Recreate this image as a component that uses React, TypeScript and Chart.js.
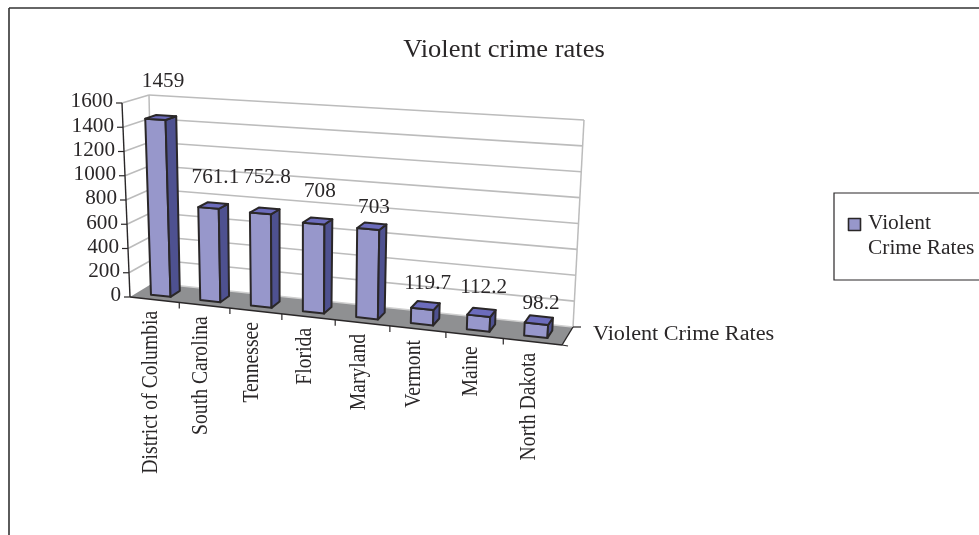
import React, { useEffect, useRef } from "react";
import { Chart, registerables } from "chart.js";

Chart.register(...registerables);

const categories = ["District of Columbia", "South Carolina", "Tennessee", "Florida", "Maryland", "Vermont", "Maine", "North Dakota"];
const crimeRates = [1459, 761.1, 752.8, 708, 703, 119.7, 112.2, 98.2];
const seriesName = "Violent Crime Rates";
const legendLines = ["Violent", "Crime Rates"];
const chartTitle = "Violent crime rates";
const yMax = 1600;
const yStep = 200;
// extra upward lift of each value label above its bar (hand-placed in the original)
const labelLift = [20, 12, 17, 13, 2, 6, 8, 0];

const FONT = '"Liberation Serif", "Times New Roman", serif';
const INK = "#2a2728";
const FRONT = "#9797cb";
const SIDE = "#4e5190";
const TOP = "#6c6cbc";
const FLOOR = "#8f9092";
const GRID = "#bcbcbc";

type P = [number, number];
// the eight corners of the 3D box: F/B front/back, B/T bottom/top, L/R left/right
const FBL: P = [130, 297], FTL: P = [122, 103], FBR: P = [562, 345], FTR: P = [573, 130];
const BBL: P = [153, 283], BTL: P = [149, 95], BBR: P = [573, 327], BTR: P = [584, 120];
const BAR_D0 = 0.28, BAR_D1 = 0.7;

const lerp = (a: P, b: P, t: number): P => [a[0] + (b[0] - a[0]) * t, a[1] + (b[1] - a[1]) * t];
const warp = (u: number) => u - 0.1 * u * (1 - u);
function project(u: number, v: number, d: number): P {
  const w = warp(u);
  const front = lerp(lerp(FBL, FBR, w), lerp(FTL, FTR, w), v);
  const back = lerp(lerp(BBL, BBR, w), lerp(BTL, BTR, w), v);
  return lerp(front, back, d);
}

function quad(ctx: CanvasRenderingContext2D, pts: P[], fill: string | null, stroke: string | null, lw = 2) {
  ctx.beginPath();
  pts.forEach((p, i) => (i ? ctx.lineTo(p[0], p[1]) : ctx.moveTo(p[0], p[1])));
  ctx.closePath();
  if (fill) { ctx.fillStyle = fill; ctx.fill(); }
  if (stroke) { ctx.strokeStyle = stroke; ctx.lineWidth = lw; ctx.lineJoin = "round"; ctx.stroke(); }
}
function line(ctx: CanvasRenderingContext2D, a: P, b: P, color: string, lw: number) {
  ctx.beginPath(); ctx.moveTo(a[0], a[1]); ctx.lineTo(b[0], b[1]);
  ctx.strokeStyle = color; ctx.lineWidth = lw; ctx.stroke();
}
function text(ctx: CanvasRenderingContext2D, s: string, x: number, y: number, size: number, align: CanvasTextAlign, sx = 1.06, rot = 0) {
  ctx.save();
  ctx.translate(x, y);
  ctx.scale(sx, 1);
  ctx.rotate(rot);
  ctx.font = `${size}px ${FONT}`;
  ctx.fillStyle = INK;
  ctx.textAlign = align;
  ctx.textBaseline = "middle";
  ctx.fillText(s, 0, 0);
  ctx.restore();
}

const scene3d = {
  id: "scene3d",
  beforeDatasetsDraw(chart: any) {
    const ctx = chart.ctx as CanvasRenderingContext2D;
    const ys = chart.scales.y;
    ctx.save();
    // outer frame
    line(ctx, [9, 8], [979, 8], "#333", 1.6);
    line(ctx, [9, 8], [9, 535], "#333", 1.6);
    // walls and floor
    ys.ticks.forEach((t: any) => {
      const v = t.value / yMax;
      if (t.value === 0) return;
      line(ctx, project(0, v, 0), project(0, v, 1), GRID, 1.6);
      line(ctx, project(0, v, 1), project(1, v, 1), GRID, 1.6);
    });
    line(ctx, BBL, BTL, GRID, 1.5);
    line(ctx, BBR, BTR, GRID, 1.5);
    quad(ctx, [FBL, BBL, BBR, FBR], FLOOR, null);
    line(ctx, BBL, BBR, "#d0d0d0", 1.4);
    ctx.restore();
  },
  beforeDatasetDraw(chart: any, args: any) {
    const ctx = chart.ctx as CanvasRenderingContext2D;
    const { left, right, top, bottom } = chart.chartArea;
    ctx.save();
    args.meta.data.forEach((el: any) => {
      const p = el.getProps(["x", "y", "width"], true);
      const u0 = (p.x - p.width / 2 - left) / (right - left);
      const u1 = (p.x + p.width / 2 - left) / (right - left);
      const v = (bottom - p.y) / (bottom - top);
      quad(ctx, [project(u0, 0, BAR_D0), project(u1, 0, BAR_D0), project(u1, v, BAR_D0), project(u0, v, BAR_D0)], FRONT, INK);
      quad(ctx, [project(u1, 0, BAR_D0), project(u1, 0, BAR_D1), project(u1, v, BAR_D1), project(u1, v, BAR_D0)], SIDE, INK);
      quad(ctx, [project(u0, v, BAR_D0), project(u1, v, BAR_D0), project(u1, v, BAR_D1), project(u0, v, BAR_D1)], TOP, INK);
    });
    ctx.restore();
    return false;
  },
  afterDatasetsDraw(chart: any) {
    const ctx = chart.ctx as CanvasRenderingContext2D;
    const { left, right, top, bottom } = chart.chartArea;
    const xs = chart.scales.x, ys = chart.scales.y;
    ctx.save();
    // axes
    line(ctx, FBL, FTL, INK, 1.4);
    line(ctx, FBL, FBR, INK, 1.4);
    line(ctx, FBR, BBR, INK, 1.4);
    line(ctx, FBR, [FBR[0] + 6, FBR[1] + 1], INK, 1.2);
    line(ctx, BBR, [BBR[0] + 8, BBR[1]], INK, 1.2);
    // value axis
    ys.ticks.forEach((t: any) => {
      const p = project(0, t.value / yMax, 0);
      line(ctx, p, [p[0] - 6, p[1]], INK, 1.2);
      text(ctx, String(t.value), p[0] - 9, p[1] - 1, 20, "right");
    });
    // category axis
    const n = categories.length;
    for (let i = 1; i < n; i++) {
      const p = project(i / n, 0, 0);
      line(ctx, p, [p[0], p[1] + 6], INK, 1.2);
    }
    xs.ticks.forEach((t: any, i: number) => {
      const u = (xs.getPixelForTick(i) - left) / (right - left);
      const p = project(u, 0, 0);
      text(ctx, xs.getLabelForValue(t.value), p[0] - 4, p[1] + 11, 19.7, "right", 1.2, -Math.PI / 2);
    });
    // value labels
    chart.getDatasetMeta(0).data.forEach((el: any, i: number) => {
      const u = (el.x - left) / (right - left);
      const v = (bottom - el.y) / (bottom - top);
      const p = project(u, v, 0.5);
      text(ctx, String(crimeRates[i]), p[0] + 2, p[1] - 16 - labelLift[i], 20, "center");
    });
    // depth axis label
    text(ctx, seriesName, 593, 335, 20, "left", 1.11);
    // title
    text(ctx, chartTitle, 504, 50, 25.5, "center", 1.04);
    // legend
    ctx.strokeStyle = INK; ctx.lineWidth = 1.2;
    ctx.beginPath(); ctx.moveTo(979, 193); ctx.lineTo(834, 193); ctx.lineTo(834, 280); ctx.lineTo(979, 280); ctx.stroke();
    quad(ctx, [[848.5, 218.5], [860.5, 218.5], [860.5, 230.5], [848.5, 230.5]], FRONT, INK, 1.6);
    text(ctx, legendLines[0], 868, 224, 20, "left", 1.07);
    text(ctx, legendLines[1], 868, 249, 20, "left", 1.07);
    ctx.restore();
  },
};

export default function App() {
  const ref = useRef<HTMLCanvasElement>(null);
  useEffect(() => {
    const chart = new Chart(ref.current as HTMLCanvasElement, {
      type: "bar",
      plugins: [scene3d as any],
      data: {
        labels: categories,
        datasets: [{ label: seriesName, data: crimeRates, backgroundColor: FRONT, categoryPercentage: 1, barPercentage: 0.4 }],
      },
      options: {
        responsive: false,
        animation: false,
        layout: { padding: { left: FBL[0], right: 979 - FBR[0], top: FTL[1], bottom: 535 - FBL[1] } },
        plugins: { legend: { display: false }, title: { display: false }, tooltip: { enabled: false } },
        scales: {
          x: { display: false, type: "category", ticks: { autoSkip: false } },
          y: { display: false, min: 0, max: yMax, ticks: { stepSize: yStep } },
        },
      },
    });
    return () => chart.destroy();
  }, []);
  return <canvas ref={ref} width={979} height={535} style={{ position: "fixed", left: 0, top: 0, width: 979, height: 535, background: "#fff" }} />;
}
